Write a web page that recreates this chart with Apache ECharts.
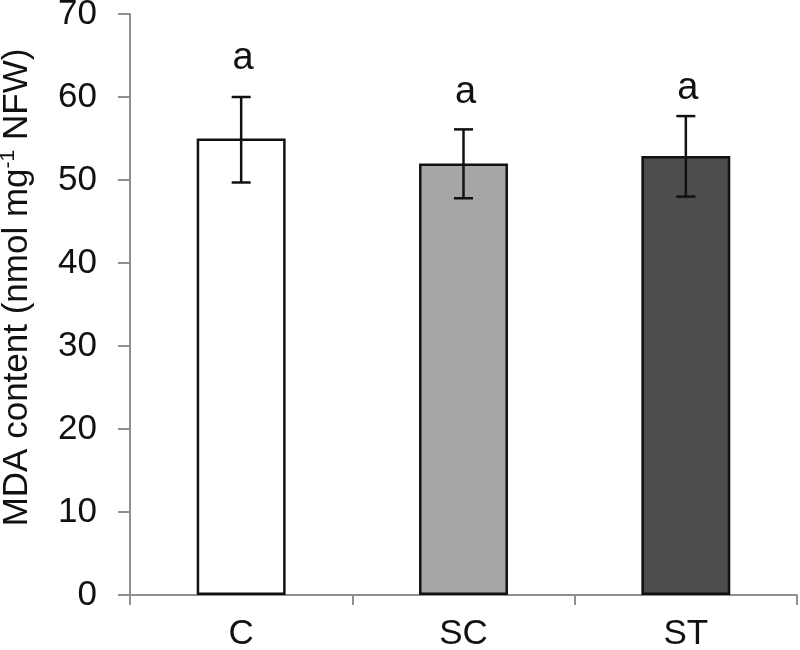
<!DOCTYPE html>
<html>
<head>
<meta charset="utf-8">
<script src="https://cdn.jsdelivr.net/npm/echarts@6/dist/echarts.min.js"></script>
<style>html,body{margin:0;padding:0;background:#fff;}#chart{width:800px;height:650px;}</style>
</head>
<body>
<div id="chart"></div>
<script>
var categories = ['C', 'SC', 'ST'];
var meanValues = [55.0, 52.0, 52.9];
var errLow = [49.7, 47.8, 48.0];
var errHigh = [60.0, 56.1, 57.7];
var letters = ['a', 'a', 'a'];
var letterY = [64.6, 60.6, 61.0];
var barColors = ['#ffffff', '#a6a6a7', '#4d4d4f'];
var yTicks = [0, 10, 20, 30, 40, 50, 60, 70];

var FONT = '"Liberation Sans", Arial, Helvetica, sans-serif';
var chart = echarts.init(document.getElementById('chart'), null, {renderer: 'canvas'});

var axisGray = '#8f8f8f';

var option = {
  animation: false,
  backgroundColor: '#ffffff',
  grid: {left: 130, right: 3, top: 14, bottom: 55, containLabel: false, outerBoundsMode: 'none'},
  xAxis: {
    type: 'category',
    data: categories,
    boundaryGap: true,
    axisLine: {show: true, lineStyle: {color: axisGray, width: 2}},
    axisTick: {show: true, length: 10, inside: false, lineStyle: {color: axisGray, width: 2}},
    axisLabel: {color: '#111', fontFamily: FONT, fontSize: 35, margin: 22},
    splitLine: {show: false}
  },
  yAxis: {
    type: 'value',
    min: yTicks[0],
    max: yTicks[yTicks.length - 1],
    interval: yTicks[1] - yTicks[0],
    axisLine: {show: true, lineStyle: {color: axisGray, width: 2}},
    axisTick: {show: true, length: 12, inside: false, lineStyle: {color: axisGray, width: 2}},
    axisLabel: {color: '#111', fontFamily: FONT, fontSize: 35, margin: 33},
    splitLine: {show: false},
    name: '{n|MDA content (nmol mg}{s|-1}{n| NFW)}',
    nameLocation: 'middle',
    nameGap: 94,
    nameRotate: 90,
    nameTextStyle: {
      padding: [0, 0, 0, 34],
      rich: {
        n: {fontFamily: FONT, fontSize: 35, color: '#111'},
        s: {fontFamily: FONT, fontSize: 21, color: '#111', padding: [0, 0, 17, 0]}
      }
    }
  },
  series: [
    {
      type: 'bar',
      barWidth: '40%',
      data: meanValues.map(function (v, i) {
        return {value: v, itemStyle: {color: barColors[i]}};
      }),
      itemStyle: {borderColor: '#111', borderWidth: 2.5},
      z: 2
    },
    {
      type: 'custom',
      z: 5,
      data: categories.map(function (c, i) { return [i, errLow[i], errHigh[i]]; }),
      renderItem: function (params, api) {
        var x = api.value(0);
        var lo = api.coord([x, api.value(1)]);
        var hi = api.coord([x, api.value(2)]);
        var hw = 9.5;
        var st = {stroke: '#111', lineWidth: 2.5};
        return {
          type: 'group',
          children: [
            {type: 'line', shape: {x1: hi[0], y1: hi[1], x2: lo[0], y2: lo[1]}, style: st},
            {type: 'line', shape: {x1: hi[0] - hw, y1: hi[1], x2: hi[0] + hw, y2: hi[1]}, style: st},
            {type: 'line', shape: {x1: lo[0] - hw, y1: lo[1], x2: lo[0] + hw, y2: lo[1]}, style: st}
          ]
        };
      }
    },
    {
      type: 'custom',
      z: 6,
      data: categories.map(function (c, i) { return [i, letterY[i]]; }),
      renderItem: function (params, api) {
        var p = api.coord([api.value(0), api.value(1)]);
        return {
          type: 'text',
          x: p[0] + 2,
          y: p[1],
          style: {
            text: letters[params.dataIndex],
            fontFamily: FONT,
            fontSize: 38,
            fill: '#111',
            align: 'center',
            verticalAlign: 'middle'
          }
        };
      }
    }
  ]
};
chart.setOption(option);
</script>
</body>
</html>
